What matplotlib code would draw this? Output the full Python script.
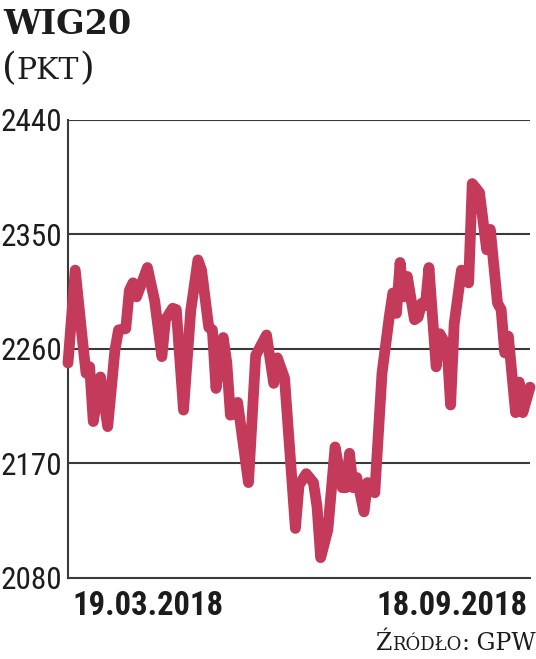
import numpy as np
import matplotlib.pyplot as plt
from matplotlib import font_manager

# sesje (indeks dnia notowań) i wartość WIG20 w punktach
sesja = [0, 2, 4, 5, 6, 7, 9, 11, 13, 14, 16, 17, 18, 19, 22, 24, 26, 27, 29, 30,
         32, 34, 36, 37, 39, 40, 41, 43, 44, 45, 46, 47, 50, 52, 55, 57, 58, 60, 63, 64,
         66, 68, 69, 70, 72, 74, 76, 77, 78, 79, 80, 82, 83, 85, 87, 89, 90, 91, 92, 93,
         94, 96, 97, 98, 99, 100, 102, 103, 105, 106, 107, 109, 111, 112, 114, 116, 117, 119, 120, 121,
         122, 124, 125, 126, 128]
wig20 = [2249, 2322, 2267, 2241, 2246, 2203, 2238, 2199, 2259, 2275, 2276, 2306, 2312, 2301, 2324, 2298, 2254, 2283, 2292, 2291,
         2212, 2290, 2330, 2322, 2277, 2275, 2229, 2269, 2249, 2208, 2209, 2218, 2155, 2255, 2271, 2233, 2253, 2237, 2119, 2153,
         2162, 2155, 2136, 2096, 2118, 2183, 2151, 2151, 2178, 2151, 2159, 2132, 2155, 2147, 2241, 2285, 2304, 2288, 2328, 2301,
         2317, 2283, 2285, 2296, 2294, 2324, 2246, 2272, 2262, 2216, 2280, 2322, 2312, 2390, 2383, 2338, 2354, 2296, 2291, 2257,
         2270, 2210, 2234, 2210, 2230]

y_ticks = [2080, 2170, 2260, 2350, 2440]
date_labels = ["19.03.2018", "18.09.2018"]

names = {f.name for f in font_manager.fontManager.ttflist}
narrow = "Roboto"
for cand in ["Roboto Condensed", "Liberation Sans Narrow", "Roboto"]:
    if cand in names:
        narrow = cand
        break

W, H = 536, 659
fig = plt.figure(figsize=(W / 100, H / 100), dpi=100)
ax = fig.add_axes([68 / W, 1 - 578 / H, (530 - 68) / W, (578 - 120) / H])

text_col = "#1c1c1c"
grid_col = "#3a3a3a"

for v in y_ticks[1:]:
    ax.axhline(v, color=grid_col, lw=1.5, zorder=1)

ax.plot(sesja, wig20, color="#c43a5b", lw=7.8, solid_joinstyle="round",
        solid_capstyle="round", zorder=3, clip_on=False)

ax.set_xlim(0, 128)
ax.set_ylim(2080, 2440)
for s in ["top", "right"]:
    ax.spines[s].set_visible(False)
for s in ["left", "bottom"]:
    ax.spines[s].set_color(grid_col)
    ax.spines[s].set_linewidth(1.5)
ax.set_xticks([])
ax.set_yticks(y_ticks)
ax.set_yticklabels([str(v) for v in y_ticks], family=narrow, fontsize=22.5, color=text_col)
ax.tick_params(axis="y", length=0, pad=4)
ax.set_facecolor("white")

fig.text(3 / W, 1 - 34 / H, "WIG20", family="DejaVu Serif", weight="bold",
         fontsize=24, color=text_col, va="baseline")

fig.text(72 / W, 1 - 615 / H, date_labels[0], family=narrow, weight="bold",
         fontsize=23.5, color=text_col, va="baseline")
fig.text(528 / W, 1 - 615 / H, date_labels[1], family=narrow, weight="bold",
         fontsize=23.5, color=text_col, va="baseline", ha="right")

fig.canvas.draw()
r = fig.canvas.get_renderer()


def run_text(parts, x, y_base, align="left"):
    # tekst z kawałków o różnej wielkości (kapitaliki)
    widths = []
    for t, s in parts:
        tt = fig.text(0, 0, t, family="DejaVu Serif", fontsize=s)
        widths.append(tt.get_window_extent(r).width)
        tt.remove()
    if align == "right":
        x = x - sum(widths)
    for (t, s), w in zip(parts, widths):
        fig.text(x / W, 1 - y_base / H, t, family="DejaVu Serif", fontsize=s,
                 color=text_col, va="baseline")
        x += w


run_text([("(", 27), ("PKT", 21.5), (")", 27)], 2, 79)
run_text([("Ź", 17), ("RÓDŁO", 13), (":", 17), (" GPW", 17)], 536, 650, "right")

fig.savefig("out.png", dpi=100, facecolor="white")
